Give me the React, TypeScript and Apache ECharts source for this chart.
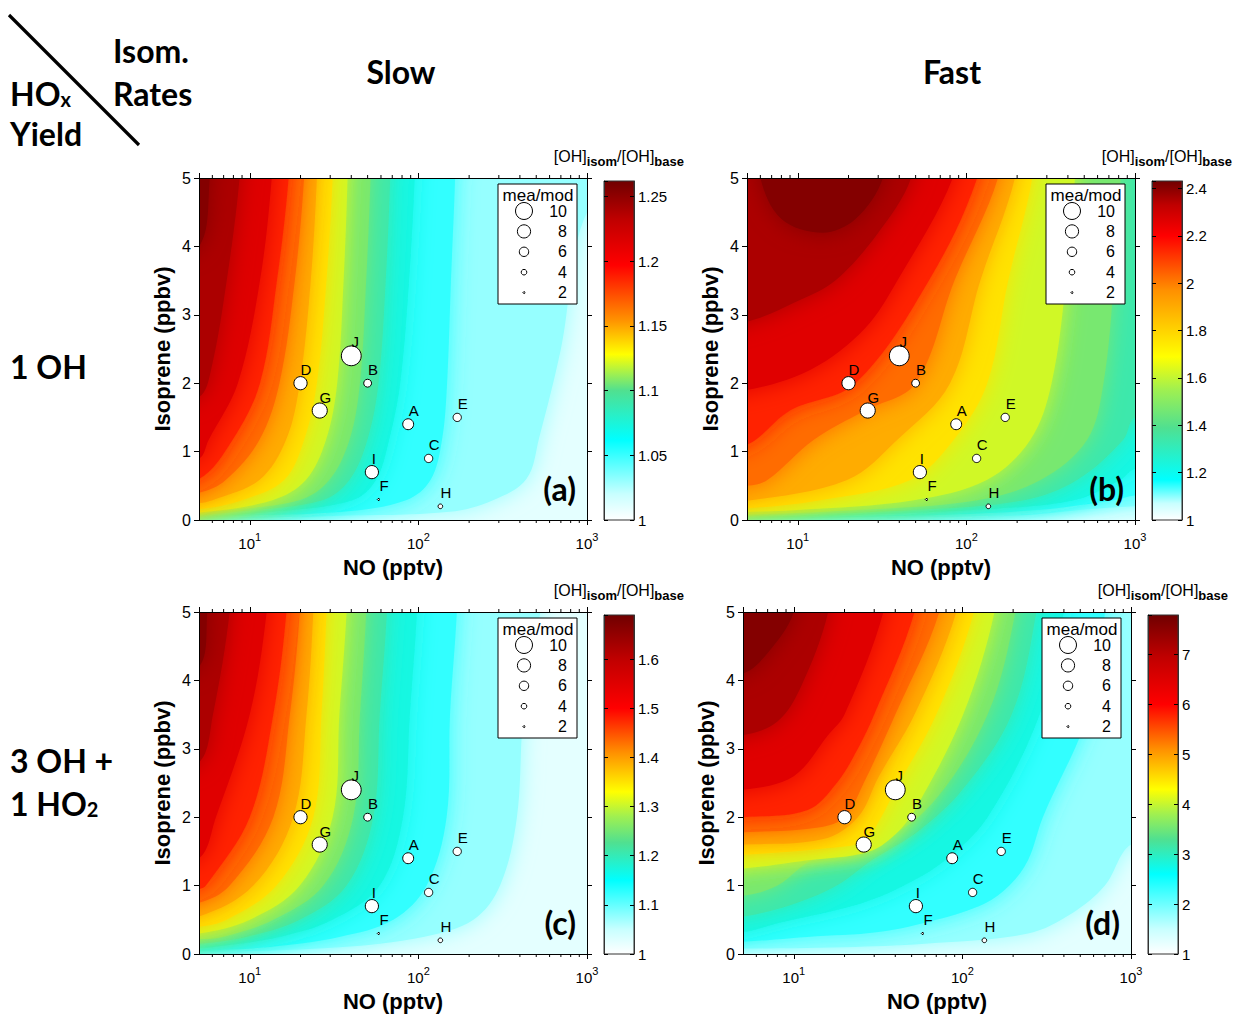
import React, { useEffect, useRef } from 'react';
import * as echarts from 'echarts';

// ---------------- data ----------------
const NO_MIN = 5;
const NO_MAX = 1000;
const ISO_MIN = 0;
const ISO_MAX = 5;
const X_MINOR_TICKS = [6, 7, 8, 9, 20, 30, 40, 50, 60, 70, 80, 90, 200, 300, 400, 500, 600, 700, 800, 900];

const SITE_NAMES = ['A', 'B', 'C', 'D', 'E', 'F', 'G', 'H', 'I', 'J'];
const SITE_NO = [87, 50, 115, 20, 170, 58, 26, 135, 53, 40];
const SITE_ISO = [1.4, 2.0, 0.9, 2.0, 1.5, 0.3, 1.6, 0.2, 0.7, 2.4];
const SITE_RATIO = [6.8, 5.2, 5.4, 8, 5.4, 2.1, 9, 3.5, 8, 11.5];
const LEGEND_RATIOS = [10, 8, 6, 4, 2];

const COL_TITLES = ['Slow', 'Fast'];
const ROW_TITLES = ['1 OH', '3 OH +'];
const PANEL_TAGS = ['(a)', '(b)', '(c)', '(d)'];
const CBAR_MAX = [1.262, 2.432, 1.69, 7.79];
const CBAR_STEP = [0.05, 0.2, 0.1, 1];

// colour map: colours and the value at which each is reached, per panel
const CMAP_COLORS = ['#ffffff', '#c8ffff', '#00ffff', '#50e090', '#a0f050', '#ffff00', '#ff9000', '#ff0000', '#c00000', '#700000'];
const CMAP_A = [1, 1.02, 1.062, 1.1, 1.113, 1.128, 1.155, 1.197, 1.232, 1.262];
const CMAP_B = [1, 1.07, 1.17, 1.39, 1.55, 1.69, 1.97, 2.2, 2.33, 2.432];
const CMAP_C = [1, 1.05, 1.15, 1.227, 1.28, 1.33, 1.41, 1.5, 1.6, 1.69];
const CMAP_D = [1, 1.5, 2.6, 3.3, 3.8, 4.3, 5.1, 6.0, 6.95, 7.79];

// contour levels (ratio values) per panel
const LEVELS_A = [1.02, 1.041, 1.062, 1.081, 1.1, 1.113, 1.128, 1.1415, 1.155, 1.176, 1.197, 1.232, 1.247];
const LEVELS_B = [1.07, 1.12, 1.17, 1.28, 1.39, 1.55, 1.69, 1.83, 1.97, 2.085, 2.2, 2.33, 2.38];
const LEVELS_C = [1.05, 1.1, 1.15, 1.19, 1.227, 1.28, 1.33, 1.37, 1.41, 1.455, 1.5, 1.6, 1.645];
const LEVELS_D = [1.5, 2.05, 2.6, 2.95, 3.3, 3.8, 4.3, 4.7, 5.1, 5.55, 6.0, 6.95, 7.37];

// contour lines [NO (pptv), isoprene (ppbv)], one per level
const CONTOURS_A = [
  [[5, 0.02], [31, 0.06], [153, 0.12], [277, 0.29], [437, 0.6], [520, 1.2], [700, 2.5], [1000, 4.5]],
  [[5, 0.03], [8.2, 0.06], [35.5, 0.12], [84.5, 0.29], [118, 0.585], [138, 1.17], [148, 2], [156, 3.5], [165, 5]],
  [[5, 0.05], [13.6, 0.12], [40.7, 0.29], [56, 0.585], [67, 1.17], [78, 2], [88, 3.5], [95, 5]],
  [[5, 0.07], [8.3, 0.12], [27, 0.29], [39, 0.585], [49.8, 1.17], [58, 2], [64, 3.5], [68, 5]],
  [[5, 0.09], [6, 0.12], [19.6, 0.29], [29.6, 0.585], [39, 1.17], [45, 2], [49, 3.5], [52, 5]],
  [[5, 0.11], [13.6, 0.29], [21.5, 0.585], [28.3, 1.17], [33, 2], [36, 3.5], [38, 5]],
  [[5, 0.16], [9, 0.29], [16, 0.585], [21, 1.17], [25, 2], [28.5, 3.5], [31, 5]],
  [[5, 0.25], [6, 0.29], [11.4, 0.585], [16.4, 1.17], [19.8, 2], [23, 3.5], [25, 5]],
  [[5, 0.4], [7.2, 0.585], [11.4, 1.17], [15, 2], [18.5, 3.5], [21, 5]],
  [[5, 0.6], [7.9, 1.17], [11.5, 2], [14.5, 3.5], [17, 5]],
  [[5, 0.9], [5.7, 1.17], [8.5, 2], [11.5, 3.5], [13.5, 5]],
  [[5, 1.8], [5.9, 2.2], [7.3, 3.5], [8.7, 5]],
  [[5, 4.0], [5.8, 5]],
];
const CONTOURS_B = [
  [[5, 0.015], [209, 0.07], [474, 0.146], [1000, 0.2]],
  [[5, 0.025], [61, 0.07], [262, 0.146], [748, 0.29], [1000, 0.36]],
  [[5, 0.04], [17.9, 0.07], [110, 0.146], [433, 0.29], [818, 0.585], [1000, 0.75]],
  [[5, 0.06], [7.2, 0.07], [48.7, 0.146], [219, 0.29], [453, 0.585], [850, 1.17], [1000, 1.5]],
  [[5, 0.08], [22.5, 0.146], [116, 0.29], [275, 0.585], [519, 1.17], [650, 2], [750, 3.5], [820, 5]],
  [[5, 0.12], [9.9, 0.146], [48.7, 0.29], [132, 0.585], [239, 1.17], [320, 2], [390, 3.5], [440, 5]],
  [[5, 0.17], [13.6, 0.29], [46.6, 0.585], [84, 1.17], [133, 2], [177, 3.5], [246, 5]],
  [[5, 0.28], [19.6, 0.585], [38.8, 1.17], [80, 2], [121, 3.5], [194, 5]],
  [[5, 0.5], [6.6, 0.585], [12.4, 1.17], [25, 1.6], [50, 2], [85, 3.5], [154, 5]],
  [[5, 1.1], [9, 1.6], [22, 2], [60, 3.5], [116, 5]],
  [[5, 1.9], [12, 2.2], [25, 2.8], [39, 3.5], [83, 5]],
  [[5, 2.9], [10, 3.2], [16.7, 3.5], [30, 4.2], [47, 5]],
  [[6, 5], [8, 4.4], [14, 4.2], [22, 4.4], [32, 5]],
];
const CONTOURS_C = [
  [[5, 0.025], [34, 0.1], [107, 0.25], [212, 0.5], [305, 1], [384, 2], [420, 3.5], [528, 5]],
  [[5, 0.05], [12.6, 0.1], [34, 0.25], [71, 0.5], [112, 1], [147, 2], [154, 3.5], [169, 5]],
  [[5, 0.09], [6, 0.1], [15, 0.25], [31, 0.5], [59, 1], [81, 2], [89, 3.5], [98, 5]],
  [[5, 0.15], [9.5, 0.25], [19.8, 0.5], [37.5, 1], [54, 2], [59, 3.5], [65, 5]],
  [[5, 0.22], [6.9, 0.25], [13.8, 0.5], [27.3, 1], [41, 2], [45, 3.5], [49, 5]],
  [[5, 0.3], [10, 0.5], [19.8, 1], [31, 2], [34, 3.5], [37.5, 5]],
  [[5, 0.4], [7.3, 0.5], [14.4, 1], [23.8, 2], [26.6, 3.5], [28.5, 5]],
  [[5, 0.55], [10.5, 1], [18.1, 2], [21.7, 3.5], [23.8, 5]],
  [[5, 0.75], [7.6, 1], [13.8, 2], [17.3, 3.5], [19.8, 5]],
  [[5, 0.95], [5.5, 1], [10, 2], [13.8, 3.5], [16.5, 5]],
  [[5, 1.4], [6.3, 2], [10, 3.5], [12.6, 5]],
  [[5, 2.8], [6.05, 3.5], [7.6, 5]],
  [[5, 4.2], [5.6, 5]],
];
const CONTOURS_D = [
  [[5, 0.08], [20, 0.1], [60, 0.15], [245, 0.3], [450, 0.6], [700, 1.0], [1000, 1.6]],
  [[5, 0.18], [12, 0.25], [31.8, 0.32], [70, 0.5], [136, 0.74], [190, 1.0], [245, 1.37], [300, 2], [554, 3.5], [701, 5]],
  [[5, 0.32], [8, 0.45], [25, 0.74], [45, 1.0], [79, 1.37], [141, 2], [287, 3.5], [399, 5]],
  [[5, 0.55], [10.2, 0.74], [18, 1.0], [29, 1.37], [55, 1.8], [100, 2.4], [196, 3.5], [274, 5]],
  [[5, 0.85], [8, 1.0], [12.8, 1.37], [30, 1.6], [66, 2.2], [141, 3.5], [206, 5]],
  [[5, 1.25], [12, 1.37], [28, 1.5], [42, 1.8], [55, 2.2], [101, 3.5], [155, 5]],
  [[5, 1.45], [16, 1.55], [26, 1.65], [33, 2.0], [40, 2.4], [70, 3.5], [117, 5]],
  [[5, 1.6], [15, 1.68], [24, 2.0], [32, 2.6], [52, 3.5], [92, 5]],
  [[5, 1.78], [14, 1.85], [20, 2.0], [26, 2.5], [40, 3.5], [73, 5]],
  [[5, 2.0], [12, 2.1], [18, 2.5], [24, 3.0], [30, 3.5], [52, 5]],
  [[5, 2.4], [10, 2.6], [16, 3.2], [20, 3.5], [34, 5]],
  [[5, 3.2], [8, 3.4], [11, 3.9], [16, 5]],
  [[5, 4.1], [7, 4.4], [10, 5]],
];

const PANEL_CMAPS = [CMAP_A, CMAP_B, CMAP_C, CMAP_D];
const PANEL_LEVELS = [LEVELS_A, LEVELS_B, LEVELS_C, LEVELS_D];
const PANEL_CONTOURS = [CONTOURS_A, CONTOURS_B, CONTOURS_C, CONTOURS_D];

// ---------------- layout / style ----------------
const FONT = '"Liberation Sans", Arial, sans-serif';
const HFONT = 'Lato, "Open Sans", sans-serif';
const PLOT_W = 388;
const PLOT_H = 342;
const LAYOUT = [
  { left: 199, top: 178, cbLeft: 604, cbTop: 181 },
  { left: 747, top: 178, cbLeft: 1152, cbTop: 181 },
  { left: 199, top: 612, cbLeft: 604, cbTop: 615 },
  { left: 743, top: 612, cbLeft: 1148, cbTop: 615 },
];
const CB_W = 30;
const CB_H = 339;

function hexToRgb(h: string) {
  const n = parseInt(h.slice(1), 16);
  return [(n >> 16) & 255, (n >> 8) & 255, n & 255];
}
function colorAt(vals: number[], v: number) {
  if (v <= vals[0]) return CMAP_COLORS[0];
  for (let i = 1; i < vals.length; i++) {
    if (v <= vals[i]) {
      const t = (v - vals[i - 1]) / (vals[i] - vals[i - 1]);
      const a = hexToRgb(CMAP_COLORS[i - 1]);
      const b = hexToRgb(CMAP_COLORS[i]);
      return `rgb(${Math.round(a[0] + (b[0] - a[0]) * t)},${Math.round(a[1] + (b[1] - a[1]) * t)},${Math.round(a[2] + (b[2] - a[2]) * t)})`;
    }
  }
  return CMAP_COLORS[CMAP_COLORS.length - 1];
}
const sizeOf = (ratio: number) => 1.9 * ratio - 2;

function labelOffset(name: string) {
  if (name === 'I') return [2, -14];
  if (name === 'J') return [4, -14];
  return [5.5, -13.5];
}

function buildOption() {
  const grid: any[] = [];
  const xAxis: any[] = [];
  const yAxis: any[] = [];
  const series: any[] = [];
  const graphic: any[] = [];
  const axisLine = { show: true, onZero: false, lineStyle: { color: '#000', width: 1 } };

  LAYOUT.forEach((L, p) => {
    const vmax = CBAR_MAX[p];
    const cmap = PANEL_CMAPS[p];
    const levels = PANEL_LEVELS[p];
    const contours = PANEL_CONTOURS[p];

    // ---- main plot ----
    const g = grid.length;
    grid.push({ left: L.left, top: L.top, width: PLOT_W, height: PLOT_H, containLabel: false, outerBoundsMode: 'none' });
    const xb = xAxis.length;
    xAxis.push({
      type: 'log', logBase: 10, gridIndex: g, min: NO_MIN, max: NO_MAX, position: 'bottom', z: 10,
      axisLine, splitLine: { show: false },
      axisTick: { show: true, inside: false, length: 5, lineStyle: { color: '#000' } },
      axisLabel: {
        show: true, margin: 11, showMinLabel: false, color: '#000',
        formatter: (v: number) => `{b|10}{s|${Math.round(Math.log10(v))}}`,
        rich: {
          b: { fontSize: 15, fontFamily: FONT, color: '#000', lineHeight: 24 },
          s: { fontSize: 11, fontFamily: FONT, color: '#000', lineHeight: 10, verticalAlign: 'top' },
        },
      },
      name: 'NO (pptv)', nameLocation: 'middle', nameGap: 36,
      nameTextStyle: { fontFamily: FONT, fontSize: 22, fontWeight: 'bold', color: '#000' },
    });
    xAxis.push({
      type: 'log', logBase: 10, gridIndex: g, min: NO_MIN, max: NO_MAX, position: 'top', z: 10,
      axisLine, splitLine: { show: false },
      axisTick: { show: true, inside: false, length: 5, lineStyle: { color: '#000' } },
      axisLabel: { show: false },
    });
    const yl = yAxis.length;
    yAxis.push({
      type: 'value', gridIndex: g, min: ISO_MIN, max: ISO_MAX, interval: 1, position: 'left', z: 10,
      axisLine, splitLine: { show: false },
      axisTick: { show: true, inside: false, length: 5, lineStyle: { color: '#000' } },
      axisLabel: { show: true, margin: 8, fontSize: 16, fontFamily: FONT, color: '#000' },
      name: 'Isoprene (ppbv)', nameLocation: 'middle', nameGap: 26, nameRotate: 90,
      nameTextStyle: { fontFamily: FONT, fontSize: 22, fontWeight: 'bold', color: '#000' },
    });
    yAxis.push({
      type: 'value', gridIndex: g, min: ISO_MIN, max: ISO_MAX, interval: 1, position: 'right', z: 10,
      axisLine, splitLine: { show: false },
      axisTick: { show: true, inside: false, length: 5, lineStyle: { color: '#000' } },
      axisLabel: { show: false },
    });

    // filled contours
    const items = [[NO_MIN, ISO_MIN, -1], ...levels.map((_, i) => [NO_MIN, ISO_MIN, i])];
    series.push({
      type: 'custom', xAxisIndex: xb, yAxisIndex: yl, clip: true, silent: true, z: 1,
      dimensions: ['x', 'y', 'k'], encode: { x: 0, y: 1 },
      data: items,
      renderItem: (params: any, api: any) => {
        const k = api.value(2);
        const cs = params.coordSys;
        const lo = k < 0 ? 1 : levels[k];
        const hi = k + 1 < levels.length ? levels[k + 1] : vmax;
        const fill = colorAt(cmap, (lo + hi) / 2);
        if (k < 0) {
          return { type: 'rect', z2: 0, shape: { x: cs.x, y: cs.y, width: cs.width, height: cs.height }, style: { fill } };
        }
        const line = contours[k];
        const pts = line.map((q: number[]) => api.coord(q));
        const first = line[0];
        const last = line[line.length - 1];
        const E = 40;
        const x0 = cs.x, y0 = cs.y, x1 = cs.x + cs.width;
        const poly: number[][] = [];
        const startLeft = first[0] <= NO_MIN;
        const p0 = pts[0];
        poly.push(startLeft ? [p0[0] - E, p0[1]] : [p0[0], p0[1] - E]);
        pts.forEach((q: number[]) => poly.push(q));
        const pn = pts[pts.length - 1];
        if (last[0] >= NO_MAX) {
          poly.push([pn[0] + E, pn[1]]);
          poly.push([x1 + E, y0 - E]);
        } else {
          poly.push([pn[0], pn[1] - E]);
        }
        if (startLeft) poly.push([x0 - E, y0 - E]);
        return {
          type: 'polygon', z2: k + 1,
          shape: { points: poly, smooth: 0.35 },
          style: { fill, shadowBlur: 22, shadowColor: fill },
        };
      },
    });

    // minor ticks on the log axes
    series.push({
      type: 'custom', xAxisIndex: xb, yAxisIndex: yl, silent: true, z: 12,
      data: X_MINOR_TICKS.map((v) => [v, 0]),
      renderItem: (params: any, api: any) => {
        const cs = params.coordSys;
        const px = api.coord([api.value(0), 0])[0];
        const st = { stroke: '#000', lineWidth: 1 };
        return {
          type: 'group',
          children: [
            { type: 'line', shape: { x1: px, y1: cs.y + cs.height, x2: px, y2: cs.y + cs.height + 3 }, style: st },
            { type: 'line', shape: { x1: px, y1: cs.y, x2: px, y2: cs.y - 3 }, style: st },
          ],
        };
      },
    });

    // sites
    series.push({
      type: 'scatter', xAxisIndex: xb, yAxisIndex: yl, z: 20,
      data: SITE_NAMES.map((n, i) => ({
        name: n, value: [SITE_NO[i], SITE_ISO[i], SITE_RATIO[i]],
        label: { offset: labelOffset(n) },
      })),
      symbol: 'circle',
      symbolSize: (v: number[]) => sizeOf(v[2]),
      itemStyle: { color: '#fff', borderColor: '#000', borderWidth: 1, opacity: 1 },
      label: { show: true, position: 'inside', formatter: '{b}', color: '#000', fontSize: 15, fontFamily: FONT },
      emphasis: { disabled: true },
    });

    // ---- colour bar ----
    const gc = grid.length;
    grid.push({ left: L.cbLeft, top: L.cbTop, width: CB_W, height: CB_H, containLabel: false, outerBoundsMode: 'none' });
    const xc = xAxis.length;
    xAxis.push({ type: 'value', gridIndex: gc, min: 0, max: 1, show: false });
    const yc = yAxis.length;
    yAxis.push({
      type: 'value', gridIndex: gc, min: 1, max: vmax, interval: CBAR_STEP[p], position: 'right', z: 10,
      axisLine: { show: true, onZero: false, lineStyle: { color: '#333', width: 1 } },
      splitLine: { show: false },
      axisTick: { show: true, inside: true, length: 4, lineStyle: { color: '#000' } },
      axisLabel: { show: true, showMaxLabel: false, margin: 4, fontSize: 15, fontFamily: FONT, color: '#000' },
    });
    yAxis.push({
      type: 'value', gridIndex: gc, min: 1, max: vmax, interval: CBAR_STEP[p], position: 'left', z: 10,
      axisLine: { show: true, onZero: false, lineStyle: { color: '#333', width: 1 } },
      splitLine: { show: false },
      axisTick: { show: true, inside: true, length: 4, lineStyle: { color: '#000' } },
      axisLabel: { show: false },
    });
    const stops = cmap.map((v, i) => ({ offset: (v - 1) / (vmax - 1), color: CMAP_COLORS[i] }));
    series.push({
      type: 'custom', xAxisIndex: xc, yAxisIndex: yc, silent: true, z: 1,
      data: [[0.5, 1]],
      renderItem: (params: any) => {
        const cs = params.coordSys;
        return {
          type: 'rect',
          shape: { x: cs.x, y: cs.y, width: cs.width, height: cs.height },
          style: { fill: new echarts.graphic.LinearGradient(0, 1, 0, 0, stops), stroke: '#333', lineWidth: 1 },
        };
      },
    });

    // colour-bar title
    graphic.push({
      type: 'text', z: 50, x: L.cbLeft + CB_W + 50, y: L.cbTop - 37,
      style: {
        text: '{n|[OH]}{s|isom}{n|/[OH]}{s|base}', align: 'right', verticalAlign: 'top',
        rich: {
          n: { fontSize: 16, fontFamily: FONT, fill: '#000', lineHeight: 24 },
          s: { fontSize: 13, fontFamily: FONT, fontWeight: 'bold', fill: '#000', lineHeight: 10, verticalAlign: 'bottom' },
        },
      },
    });

    // legend box
    const lx = L.left + PLOT_W - 10 - 79;
    const ly = L.top + 6;
    graphic.push({ type: 'rect', z: 50, shape: { x: lx, y: ly, width: 79, height: 120 }, style: { fill: '#fff', stroke: '#000', lineWidth: 1 } });
    graphic.push({ type: 'text', z: 51, x: lx + 40, y: ly + 11, style: { text: 'mea/mod', align: 'center', verticalAlign: 'middle', fontSize: 17, fontFamily: FONT, fill: '#000' } });
    LEGEND_RATIOS.forEach((r, k) => {
      const cy = ly + 27 + 20.4 * k;
      graphic.push({ type: 'circle', z: 51, shape: { cx: lx + 26, cy, r: sizeOf(r) / 2 }, style: { fill: '#fff', stroke: '#000', lineWidth: 1 } });
      graphic.push({ type: 'text', z: 51, x: lx + 69, y: cy, style: { text: String(r), align: 'right', verticalAlign: 'middle', fontSize: 16, fontFamily: FONT, fill: '#000' } });
    });

    // panel tag
    graphic.push({
      type: 'text', z: 50, x: L.left + PLOT_W - 11, y: L.top + PLOT_H - 32,
      style: { text: PANEL_TAGS[p], align: 'right', verticalAlign: 'middle', fontSize: 32, fontWeight: 'bold', fontFamily: HFONT, fill: '#000' },
    });
  });

  // headers
  const H = (text: string, x: number, y: number, align = 'left', extra: any = {}) => ({
    type: 'text', z: 50, x, y,
    style: { text, align, verticalAlign: 'middle', fontSize: 32, fontWeight: 'bold', fontFamily: HFONT, fill: '#000', ...extra },
  });
  graphic.push({ type: 'line', z: 50, shape: { x1: 9, y1: 15, x2: 139, y2: 145 }, style: { stroke: '#000', lineWidth: 3.2 } });
  graphic.push(H('Isom.', 113, 50));
  graphic.push(H('Rates', 113, 93));
  graphic.push({
    type: 'text', z: 50, x: 10, y: 77,
    style: {
      text: '{b|HO}{s|x}', align: 'left', verticalAlign: 'top',
      rich: {
        b: { fontSize: 32, fontWeight: 'bold', fontFamily: HFONT, fill: '#000', lineHeight: 32 },
        s: { fontSize: 20, fontWeight: 'bold', fontFamily: HFONT, fill: '#000', lineHeight: 14, verticalAlign: 'bottom' },
      },
    },
  });
  graphic.push(H('Yield', 10, 133));
  graphic.push(H(COL_TITLES[0], 401, 71, 'center'));
  graphic.push(H(COL_TITLES[1], 952, 71, 'center'));
  graphic.push(H(ROW_TITLES[0], 10, 366));
  graphic.push(H(ROW_TITLES[1], 10, 760));
  graphic.push({
    type: 'text', z: 50, x: 10, y: 787,
    style: {
      text: '{b|1 HO}{s|2}', align: 'left', verticalAlign: 'top',
      rich: {
        b: { fontSize: 32, fontWeight: 'bold', fontFamily: HFONT, fill: '#000', lineHeight: 32 },
        s: { fontSize: 20, fontWeight: 'bold', fontFamily: HFONT, fill: '#000', lineHeight: 14, verticalAlign: 'bottom' },
      },
    },
  });

  return { animation: false, backgroundColor: '#fff', grid, xAxis, yAxis, series, graphic };
}

export default function App() {
  const ref = useRef<HTMLDivElement>(null);
  useEffect(() => {
    document.body.style.margin = '0';
    document.body.style.overflow = 'hidden';
    const chart = echarts.init(ref.current as HTMLDivElement, null, { renderer: 'svg' });
    chart.setOption(buildOption() as any);
    return () => chart.dispose();
  }, []);
  return <div ref={ref} style={{ width: 1233, height: 1014 }} />;
}
